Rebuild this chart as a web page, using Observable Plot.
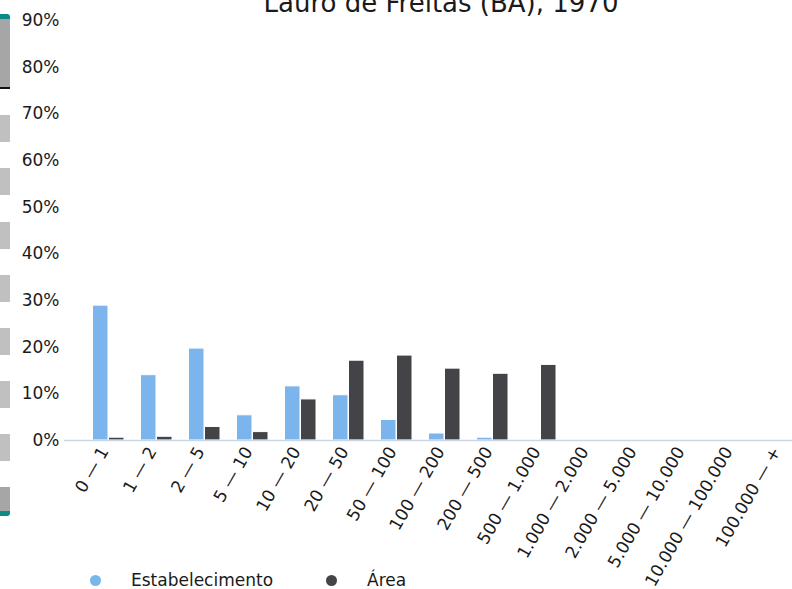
<!DOCTYPE html>
<html>
<head>
<meta charset="utf-8">
<script src="https://cdn.jsdelivr.net/npm/d3@7"></script>
<script src="https://cdn.jsdelivr.net/npm/@observablehq/plot@0.6"></script>
<style>
  html, body { margin: 0; padding: 0; background: #fff; overflow: hidden; }
  #wrap { position: relative; width: 792px; height: 589px; overflow: hidden; font-family: "DejaVu Sans", sans-serif; }
  #title { position: absolute; left: 64px; width: 754px; top: -12px; text-align: center; font-size: 26px; line-height: normal; color: #1a1a1a; white-space: nowrap; }
  #chart { position: absolute; left: 0; top: 0; }
  #legend { position: absolute; left: 0; top: 570px; height: 22px; font-size: 17px; color: #1a1a1a; }
  .item { position: absolute; top: 0; white-space: nowrap; line-height: 20px; }
  .dot { position: absolute; width: 11px; height: 11px; border-radius: 50%; top: 5px; }
  .strip { position: absolute; left: 0; width: 10px; background: #c0c0c0; }
</style>
</head>
<body>
<div id="wrap">
  <div id="strip"></div>
  <div id="chart"></div>
  <div id="title">Lauro de Freitas (BA), 1970</div>
  <div id="legend"></div>
</div>
<script>
const categories = ["0 — 1","1 — 2","2 — 5","5 — 10","10 — 20","20 — 50","50 — 100","100 — 200","200 — 500","500 — 1.000","1.000 — 2.000","2.000 — 5.000","5.000 — 10.000","10.000 — 100.000","100.000 — +"];
const estabelecimento = [28.9, 14.0, 19.7, 5.4, 11.6, 9.7, 4.4, 1.5, 0.6, 0.2, 0, 0, 0, 0, 0];
const area = [0.6, 0.8, 2.9, 1.8, 8.8, 17.1, 18.2, 15.4, 14.3, 16.2, 0, 0, 0, 0, 0];
const series = ["Estabelecimento", "Área"];
const colors = ["#7cb5ec", "#434348"];
const yTicks = [0, 10, 20, 30, 40, 50, 60, 70, 80, 90];

const rows = categories.map((c, i) => ({cat: c, estab: estabelecimento[i], area: area[i]}));

const chart = Plot.plot({
  width: 792,
  height: 589,
  marginLeft: 64,
  marginRight: 0,
  marginTop: 20,
  marginBottom: 149,
  style: {fontFamily: "DejaVu Sans", fontSize: "17px", color: "#1a1a1a", background: "transparent", overflow: "visible"},
  x: {domain: categories, range: [84, 804], padding: 0},
  y: {domain: [0, 90]},
  marks: [
    Plot.axisY({ticks: yTicks, tickFormat: d => d + "%", tickSize: 0, tickPadding: 5, label: null, fontSize: 17}),
    Plot.axisX({tickSize: 0, tickRotate: -60, tickPadding: 8, dx: -4, label: null, fontSize: 17}),
    Plot.barY(rows, {x: "cat", y: "estab", fill: colors[0], stroke: "#fff", strokeWidth: 1, insetLeft: 8.5, insetRight: 24}),
    Plot.barY(rows, {x: "cat", y: "area", fill: colors[1], stroke: "#fff", strokeWidth: 1, insetLeft: 24.5, insetRight: 8}),
    Plot.ruleY([0], {stroke: "#ccd6eb", strokeWidth: 1.5})
  ]
});
document.getElementById("chart").appendChild(chart);

// legend
const legend = document.getElementById("legend");
const legendX = [90, 326];
series.forEach((s, i) => {
  const item = document.createElement("div");
  item.className = "item";
  item.style.left = legendX[i] + "px";
  const dot = document.createElement("span");
  dot.className = "dot";
  dot.style.left = "0px";
  dot.style.background = colors[i];
  const label = document.createElement("span");
  label.style.marginLeft = "41px";
  label.textContent = s;
  item.appendChild(dot);
  item.appendChild(label);
  legend.appendChild(item);
});

// left side decoration strip
const strip = document.getElementById("strip");
const lightTops = [115, 168, 222, 275, 328, 381, 434];
lightTops.forEach(t => {
  const d = document.createElement("div");
  d.className = "strip";
  d.style.top = t + "px";
  d.style.height = "27px";
  strip.appendChild(d);
});
const top1 = document.createElement("div");
top1.className = "strip";
Object.assign(top1.style, {top: "14px", height: "68px", background: "#a6a6a6", borderTop: "5px solid #0c8a86", borderBottom: "2px solid #111", borderRadius: "0 3px 0 0"});
strip.appendChild(top1);
const bot1 = document.createElement("div");
bot1.className = "strip";
Object.assign(bot1.style, {top: "487px", height: "24px", background: "#a6a6a6", borderBottom: "5px solid #0c8a86", borderRadius: "0 0 3px 0"});
strip.appendChild(bot1);
</script>
</body>
</html>
